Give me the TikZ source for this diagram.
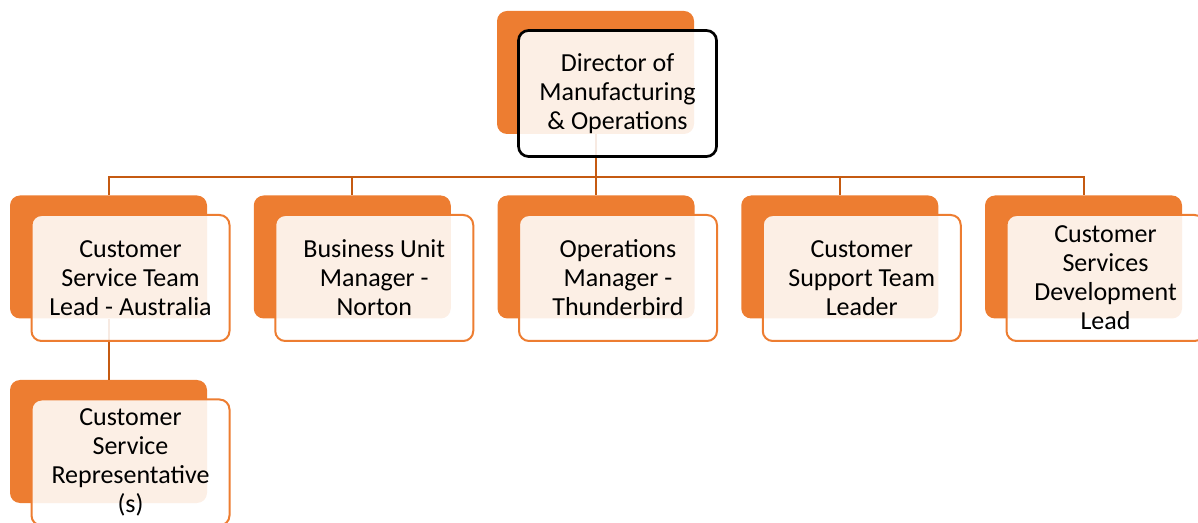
\documentclass[tikz,border=0pt]{standalone}
\usepackage{fontspec}
\setmainfont{Carlito}
\definecolor{accent}{HTML}{ED7D31}
\definecolor{linkcol}{HTML}{C55A11}

\begin{document}
\begin{tikzpicture}[x=0.75pt,y=-0.75pt,
    back/.style={fill=accent, rounded corners=7.5pt, inner sep=0pt,
        minimum width=147.75pt, minimum height=92.25pt},
    front/.style={draw=accent, line width=1.5pt, fill=white, fill opacity=0.88,
        text opacity=1, rounded corners=7.5pt, inner sep=0pt, align=center,
        minimum width=148.5pt, minimum height=94.5pt,
        font=\fontsize{19.5}{21.75}\selectfont},
    link/.style={draw=linkcol, line width=1.5pt}]
    \useasboundingbox (0,0) rectangle (1198,523);
    \clip (0,0) rectangle (1198,523);

    % ==== BACK PLATES ====
    \node[back] (dirback) at (595.5,72.5) {};
    \foreach \i in {1,...,5}
        \node[back] (back\i) at ({108.5+243.75*(\i-1)},257) {};
    \node[back] (repback) at (108.5,441.5) {};

    % ==== CONNECTORS ====
    \coordinate (bus) at (0,177);
    \draw[link] (dirback.south) -- (dirback.south |- bus);
    \foreach \i in {1,...,5}
        \draw[link] (dirback.south |- bus) -| (back\i.north);
    \draw[link] (back1.south) -- (repback.north);

    % ==== TEXT BOXES ====
    \node[front, draw=black, line width=2pt] (dir) at ([shift={(22,21)}]dirback.center)
        {Director of\\Manufacturing\\\& Operations};
    \foreach \i/\txt in {1/{Customer\\Service Team\\Lead - Australia},
                         2/{Business Unit\\Manager -\\Norton},
                         3/{Operations\\Manager -\\Thunderbird},
                         4/{Customer\\Support Team\\Leader},
                         5/{Customer\\Services\\Development\\Lead}}
        \node[front] (box\i) at ([shift={(22,21)}]back\i.center) {\txt};
    \node[front] (rep) at ([shift={(22,21)}]repback.center)
        {Customer\\Service\\Representative\\(s)};
\end{tikzpicture}
\end{document}
